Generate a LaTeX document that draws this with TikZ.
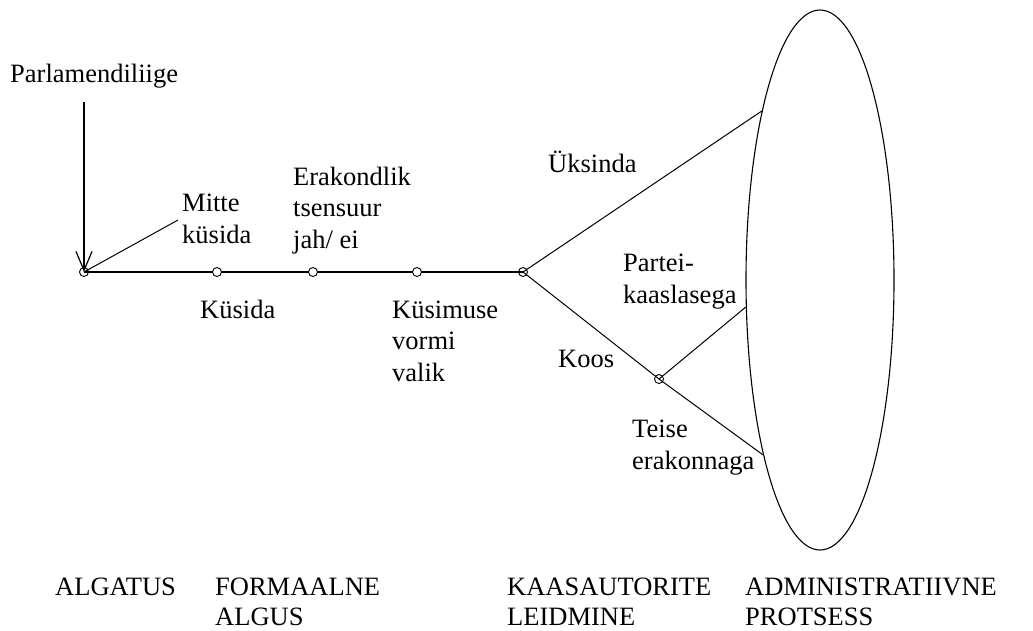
\documentclass[tikz,border=0pt]{standalone}
\usepackage{fontspec}
\setmainfont{Liberation Serif}
\usetikzlibrary{arrows.meta,shapes.geometric}
\begin{document}
\begin{tikzpicture}[x=1pt,y=-1pt,
  lbl/.style={anchor=base west,inner sep=0pt,align=left,font=\fontsize{26.5}{31.5}\selectfont},
  caplbl/.style={anchor=base west,inner sep=0pt,align=left,font=\fontsize{26.5}{30}\selectfont},
  dot/.style={circle,draw,line width=0.9pt,minimum size=9pt,inner sep=0pt},
  hollow/.style={dot,fill=white},
  conn/.style={line width=1pt},
  mainline/.style={line width=1.6pt}]
\useasboundingbox (0,0) rectangle (1033,630);
% ellipse
\node[ellipse,draw,line width=1.1pt,minimum width=148pt,minimum height=540pt,inner sep=0pt] (ell) at (820,280) {};
% points
\coordinate (top) at (84,102);
\coordinate (mk) at (178,220);
\coordinate (n0) at (84,272);
\coordinate (n1) at (217,272);
\coordinate (n2) at (313,272);
\coordinate (n3) at (417,272);
\coordinate (n4) at (523,272);
\coordinate (n5) at (659,379);
% lines
\draw[mainline] (n0) -- (n1) -- (n2) -- (n3) -- (n4);
\draw[conn] (n0) -- (mk);
\draw[line width=1.2pt,-{Straight Barb[length=19pt,width=16pt]}] (top) -- (n0);
\draw[conn] (n4) -- (ell.109.3);
\draw[conn] (n4) -- (n5);
\draw[conn] (n5) -- (ell.252.4);
\draw[conn] (n5) -- (ell.200.7);
% node circles
\node[dot] (c0) at (n0) {};
\node[hollow] (c1) at (n1) {};
\node[hollow] (c2) at (n2) {};
\node[hollow] (c3) at (n3) {};
\node[dot] (c4) at (n4) {};
\node[dot] (c5) at (n5) {};
% labels (base = baseline of last line)
\node[lbl] (t0) at (10,82) {Parlamendiliige};
\node[lbl] (t1) at (182,243) {Mitte\\küsida};
\node[lbl] (t2) at (200,318) {Küsida};
\node[lbl] (t3) at (293,248) {Erakondlik\\tsensuur\\jah/ ei};
\node[lbl] (t4) at (392,381) {Küsimuse\\vormi\\valik};
\node[lbl] (t5) at (548,172) {Üksinda};
\node[lbl] (t6) at (623,303) {Partei-\\kaaslasega};
\node[lbl] (t7) at (558,367) {Koos};
\node[lbl] (t8) at (632,469) {Teise\\erakonnaga};
\node[caplbl] (b0) at (55,595) {ALGATUS};
\node[caplbl] (b1) at (215,625) {FORMAALNE\\ALGUS};
\node[caplbl] (b2) at (507,625) {KAASAUTORITE\\LEIDMINE};
\node[caplbl] (b3) at (745,625) {ADMINISTRATIIVNE\\PROTSESS};
\end{tikzpicture}
\end{document}
